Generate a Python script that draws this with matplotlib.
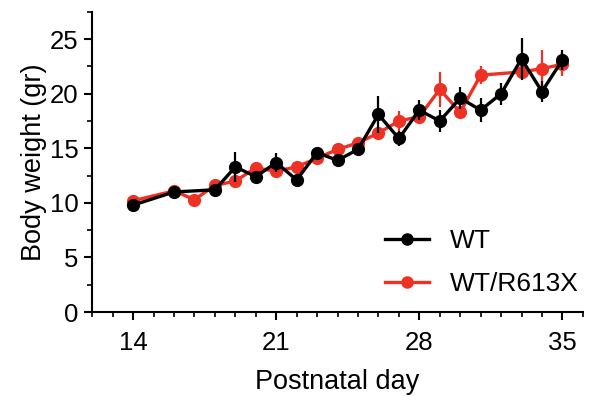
import matplotlib
matplotlib.use("Agg")
import matplotlib.pyplot as plt
from matplotlib.lines import Line2D
from matplotlib.ticker import MultipleLocator

plt.rcParams['font.family'] = ['Liberation Sans', 'DejaVu Sans']

# WT
wt_day = [14, 16, 18, 19, 20, 21, 22, 23, 24, 25, 26, 27, 28, 29, 30, 31, 32, 33, 34, 35]
wt_mean = [9.8, 11.0, 11.2, 13.3, 12.4, 13.7, 12.1, 14.6, 13.9, 14.9, 18.1, 15.9, 18.5, 17.5,
           19.6, 18.5, 20.0, 23.2, 20.2, 23.1]
wt_sem = [0.3, 0.4, 0.3, 1.4, 0.4, 0.9, 0.3, 0.5, 0.3, 0.4, 1.7, 0.7, 0.9, 1.0,
          1.0, 1.1, 1.0, 1.9, 1.0, 0.9]

# WT/R613X
mut_day = [14, 16, 17, 18, 19, 20, 21, 22, 23, 24, 25, 26, 27, 28, 29, 30, 31, 33, 34, 35]
mut_mean = [10.2, 11.1, 10.3, 11.6, 12.0, 13.2, 12.9, 13.3, 14.1, 14.9, 15.5, 16.4, 17.5, 17.9,
            20.4, 18.3, 21.7, 22.0, 22.3, 22.7]
mut_sem = [0.3, 0.3, 0.3, 0.3, 0.6, 0.4, 0.4, 0.3, 0.3, 0.3, 0.4, 0.5, 0.9, 0.5,
           1.6, 0.4, 0.8, 0.6, 1.7, 1.1]

red = '#EE3124'
ms = 8.5
lw = 2.4

fig = plt.figure(figsize=(5.99, 3.96), dpi=100)
ax = fig.add_axes([0.154, 0.212, 0.819, 0.758])

ax.errorbar(mut_day, mut_mean, yerr=mut_sem, color=red, marker='o', ms=ms, lw=lw,
            elinewidth=1.6, capsize=0, zorder=2)
ax.errorbar(wt_day, wt_mean, yerr=wt_sem, color='black', marker='o', ms=ms, lw=lw,
            elinewidth=1.6, capsize=0, zorder=3)

ax.set_xlim(12, 36)
ax.set_ylim(0, 27.5)
ax.set_xticks([14, 21, 28, 35])
ax.xaxis.set_minor_locator(MultipleLocator(1))
ax.set_yticks([0, 5, 10, 15, 20, 25])
ax.yaxis.set_minor_locator(MultipleLocator(2.5))

for s in ['top', 'right']:
    ax.spines[s].set_visible(False)
for s in ['left', 'bottom']:
    ax.spines[s].set_linewidth(1.5)
ax.tick_params(which='major', direction='out', length=6, width=1.5, labelsize=18.5)
ax.tick_params(axis='x', which='major', pad=8)
ax.tick_params(axis='y', which='major', pad=4)
ax.tick_params(which='minor', direction='out', length=3.5, width=1.2)

ax.set_xlabel('Postnatal day', fontsize=19.5, labelpad=10)
ax.set_ylabel('Body weight (gr)', fontsize=19.5, labelpad=2)

handles = [Line2D([], [], color='black', marker='o', ms=8, lw=lw),
           Line2D([], [], color=red, marker='o', ms=8, lw=lw)]
ax.legend(handles, ['WT', 'WT/R613X'], loc='lower right', frameon=False, fontsize=19,
          handlelength=1.65, handletextpad=0.8, labelspacing=0.7,
          bbox_to_anchor=(1.04, -0.025))

fig.savefig('out.png', dpi=100)
